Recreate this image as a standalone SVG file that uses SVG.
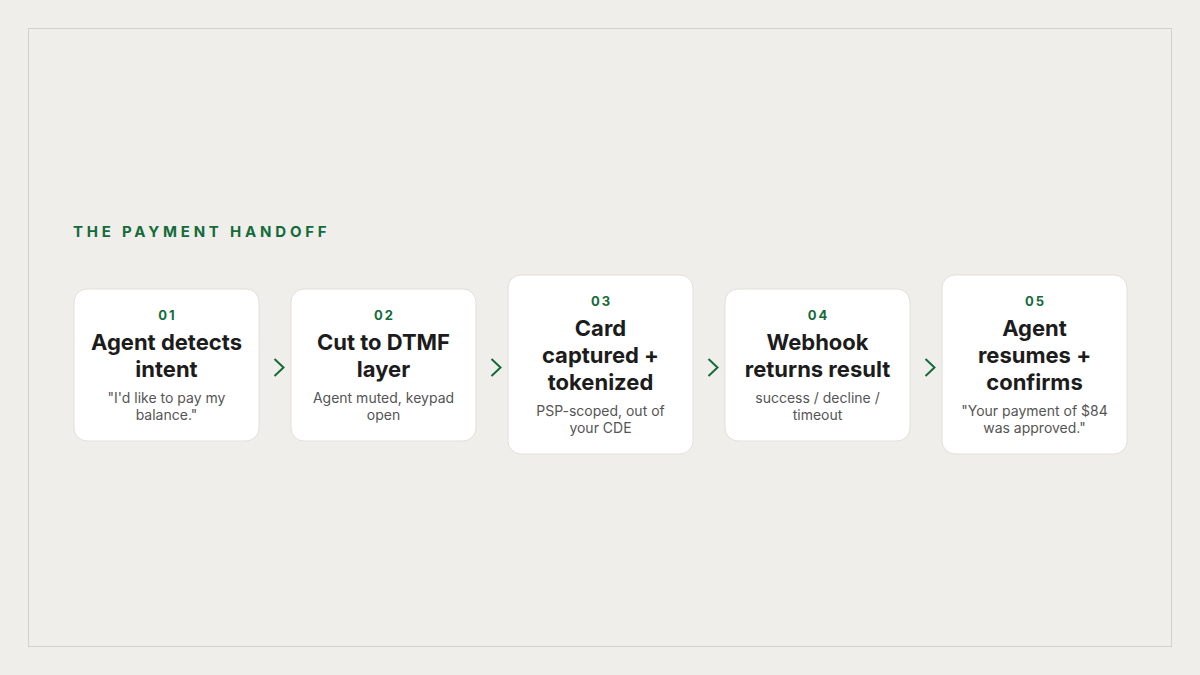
<svg xmlns="http://www.w3.org/2000/svg" width="1200" height="675" viewBox="0 0 1200 675">
<style>
.card{fill:#ffffff;stroke:#e2dfd8;stroke-width:1}
.num{font-family:Inter,"Liberation Sans",sans-serif;font-size:13px;font-weight:700;fill:#146b3a;letter-spacing:2px;text-anchor:middle}
.ttl{font-family:Inter,"Liberation Sans",sans-serif;font-size:22px;font-weight:700;fill:#1c1c1c;text-anchor:middle}
.sub{font-family:Inter,"Liberation Sans",sans-serif;font-size:14px;fill:#555555;text-anchor:middle}
.chev{fill:none;stroke:#146b3a;stroke-width:2;stroke-linecap:butt}
</style>
<rect x="0" y="0" width="1200" height="675" fill="#efeeea"/>
<rect x="28.5" y="28.5" width="1143" height="618" fill="none" stroke="#d3d1cb" stroke-width="1"/>
<text x="73" y="237" font-family="Inter,'Liberation Sans',sans-serif" font-size="15" font-weight="700" fill="#146b3a" letter-spacing="3.8">THE PAYMENT HANDOFF</text>
<g id="connectors">
<path class="chev" d="M274.5 359 L283.5 367.5 L274.5 376"/>
<path class="chev" d="M491.5 359 L500.5 367.5 L491.5 376"/>
<path class="chev" d="M708.5 359 L717.5 367.5 L708.5 376"/>
<path class="chev" d="M925.5 359 L934.5 367.5 L925.5 376"/>
</g>
<g id="step1">
<rect class="card" x="74" y="289" width="185" height="152" rx="13"/>
<text class="num" x="167.5" y="320">01</text>
<text class="ttl" x="166.5" y="350">Agent detects</text>
<text class="ttl" x="166.5" y="377">intent</text>
<text class="sub" x="166.5" y="403">"I'd like to pay my</text>
<text class="sub" x="166.5" y="420">balance."</text>
</g>
<g id="step2">
<rect class="card" x="291" y="289" width="185" height="152" rx="13"/>
<text class="num" x="384.5" y="320">02</text>
<text class="ttl" x="383.5" y="350">Cut to DTMF</text>
<text class="ttl" x="383.5" y="377">layer</text>
<text class="sub" x="383.5" y="403">Agent muted, keypad</text>
<text class="sub" x="383.5" y="420">open</text>
</g>
<g id="step3">
<rect class="card" x="508" y="275" width="185" height="179" rx="13"/>
<text class="num" x="601.5" y="306">03</text>
<text class="ttl" x="600.5" y="336">Card</text>
<text class="ttl" x="600.5" y="363">captured +</text>
<text class="ttl" x="600.5" y="390">tokenized</text>
<text class="sub" x="600.5" y="416">PSP-scoped, out of</text>
<text class="sub" x="600.5" y="433">your CDE</text>
</g>
<g id="step4">
<rect class="card" x="725" y="289" width="185" height="152" rx="13"/>
<text class="num" x="818.5" y="320">04</text>
<text class="ttl" x="817.5" y="350">Webhook</text>
<text class="ttl" x="817.5" y="377">returns result</text>
<text class="sub" x="817.5" y="403">success / decline /</text>
<text class="sub" x="817.5" y="420">timeout</text>
</g>
<g id="step5">
<rect class="card" x="942" y="275" width="185" height="179" rx="13"/>
<text class="num" x="1035.5" y="306">05</text>
<text class="ttl" x="1034.5" y="336">Agent</text>
<text class="ttl" x="1034.5" y="363">resumes +</text>
<text class="ttl" x="1034.5" y="390">confirms</text>
<text class="sub" x="1034.5" y="416">"Your payment of $84</text>
<text class="sub" x="1034.5" y="433">was approved."</text>
</g>
</svg>
